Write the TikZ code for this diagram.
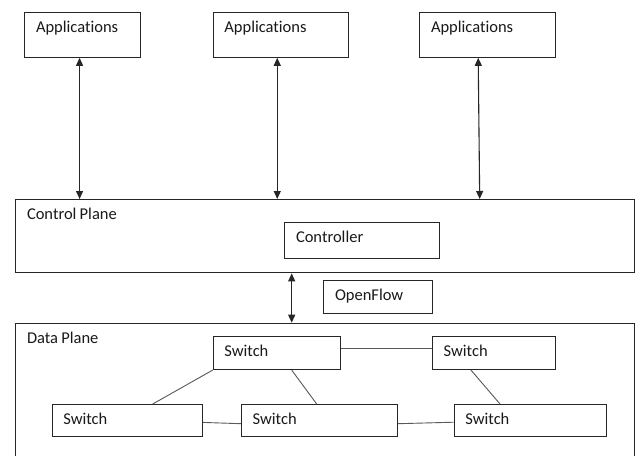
\documentclass[tikz,border=0pt]{standalone}
\usepackage{fontspec}
\setmainfont{Carlito}[Ligatures={NoCommon}, RawFeature={-liga;-clig;-dlig}]
\usetikzlibrary{arrows.meta}

\tikzset{
  box/.style={draw=black!85, line width=1.1pt, rectangle, inner sep=0pt, anchor=north west},
  lbl/.style={anchor=base west, inner sep=0pt, xshift=11.5pt, yshift=-20.5pt,
              font=\fontsize{16.5}{18}\selectfont, text=black!90},
  link/.style={draw=black!65, line width=0.9pt},
  updown/.style={draw=black!85, line width=1.1pt, {Triangle[width=7pt,length=8pt]}-{Triangle[width=7pt,length=8pt]}},
}

\begin{document}
\begin{tikzpicture}[x=1pt, y=-1pt]
  \clip (0,0) rectangle (636,455);
  \fill[white] (0,0) rectangle (636,455);

  % application layer
  \node[box, minimum width=116pt, minimum height=44.4pt, label={[lbl]north west:Applications}] (app1) at (24.3,12.3) {};
  \node[box, minimum width=135pt, minimum height=44.4pt, label={[lbl]north west:Applications}] (app2) at (212.7,12.3) {};
  \node[box, minimum width=135.7pt, minimum height=44.4pt, label={[lbl]north west:Applications}] (app3) at (419.3,12.3) {};

  % control plane
  \node[box, minimum width=619pt, minimum height=73.3pt, label={[lbl]north west:Control\kern-0.5pt{} Plane}] (ctrl) at (15.3,199) {};
  \node[box, minimum width=155pt, minimum height=35.4pt, label={[lbl]north west:Controller}] (controller) at (284.3,222.3) {};

  % southbound interface
  \node[box, minimum width=109pt, minimum height=33.3pt, label={[lbl]north west:OpenFlow}] (openflow) at (323.3,280) {};

  % data plane
  \node[box, minimum width=619pt, minimum height=160pt, label={[lbl]north west:Data\kern-0.5pt{} Plane}] (data) at (15.3,322.7) {};

  \node[box, minimum width=127.6pt, minimum height=33.3pt, label={[lbl]north west:Switch}] (sTL) at (212.7,335.7) {};
  \node[box, minimum width=123pt, minimum height=33.3pt, label={[lbl]north west:Switch}] (sTR) at (432,335.7) {};
  \node[box, minimum width=150pt, minimum height=31.7pt, label={[lbl]north west:Switch}] (sBL) at (51.7,404) {};
  \node[box, minimum width=156pt, minimum height=31.7pt, label={[lbl]north west:Switch}] (sBM) at (241,404) {};
  \node[box, minimum width=152.3pt, minimum height=31.7pt, label={[lbl]north west:Switch}] (sBR) at (453.7,404) {};

  % applications <-> control plane
  \draw[updown] ([xshift=-3.3pt]app1.south) -- ([xshift=-3.3pt]app1.south |- ctrl.north);
  \draw[updown] ([xshift=-3.5pt]app2.south) -- ([xshift=-3.5pt]app2.south |- ctrl.north);
  \draw[updown] ([xshift=-9.5pt]app3.south) -- ([xshift=-8pt]app3.south |- ctrl.north);

  % control plane <-> data plane
  \coordinate (cd) at (291.7,272.3);
  \draw[updown] (cd |- ctrl.south) -- (cd |- data.north);

  % switch links
  \draw[link] ([yshift=4pt]sTL.east) -- ([yshift=4pt]sTL.east -| sTR.west);
  \draw[link] ([yshift=-2pt]sBL.east) -- ([yshift=-3.3pt]sBM.west);
  \draw[link] ([yshift=-3.3pt]sBM.east) -- ([yshift=-1.8pt]sBR.west);
  \draw[link] (sTL.south west) -- ([xshift=101pt]sBL.north west);
  \draw[link] ([xshift=79pt]sTL.south west) -- ([xshift=75.7pt]sBM.north west);
  \draw[link] ([xshift=39pt]sTR.south west) -- ([xshift=46.3pt]sBR.north west);
\end{tikzpicture}
\end{document}
